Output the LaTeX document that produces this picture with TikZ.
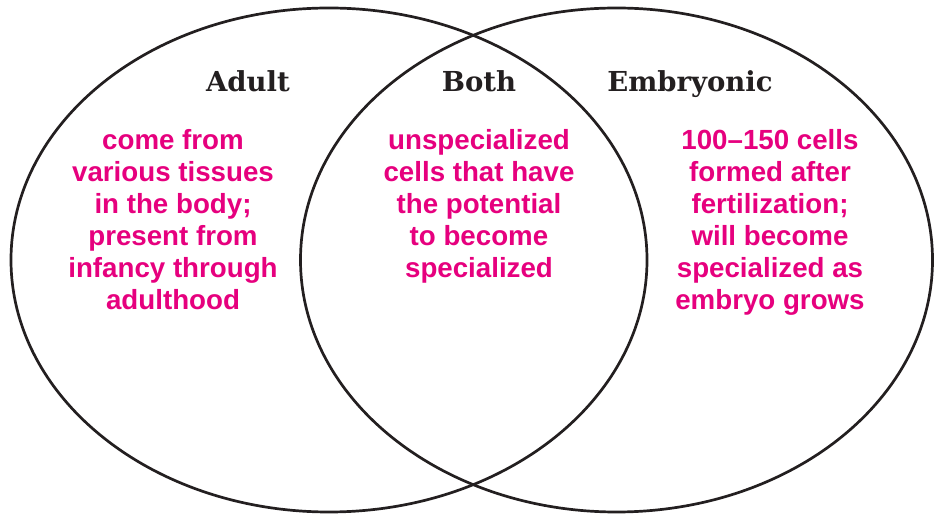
\documentclass[tikz,border=0pt]{standalone}
\usepackage{fontspec}
\usetikzlibrary{shapes.geometric}
\newfontfamily\headfont{DejaVu Serif}
\newfontfamily\notefont{Liberation Sans}
\definecolor{notepink}{RGB}{230,0,126}
\definecolor{headink}{RGB}{35,31,32}
\begin{document}
\begin{tikzpicture}[x=1pt,y=1pt,line cap=round,line join=round,
    setring/.style={draw=headink,line width=2.7pt,ellipse,inner sep=0pt,
      minimum width=636pt,minimum height=504pt},
    sethead/.style={anchor=base,inner sep=0pt,text=headink,
      font=\headfont\bfseries\fontsize{27.5}{32}\selectfont},
    setnote/.style={anchor=north,inner sep=0pt,align=center,text=notepink,
      font=\notefont\bfseries\fontsize{27.7}{32}\selectfont}]
    \useasboundingbox (0,0) rectangle (936,516);
    % the two sets
    \node[setring] (adultset) at (329,256) {};
    \node[setring,minimum width=632pt] (embryoset) at (616.5,256) {};
    % headings
    \node[sethead] (adulthead) at (248,424) {Adult};
    \node[sethead] (bothhead) at (479,424) {Both};
    \node[sethead] (embryohead) at (690,424) {Embryonic};
    % notes
    \node[setnote] (adultnote) at (173,387)
      {come from\\various tissues\\in the body;\\present from\\infancy through\\adulthood};
    \node[setnote] (bothnote) at (479,387)
      {unspecialized\\cells that have\\the potential\\to become\\specialized};
    \node[setnote] (embryonote) at (770,387)
      {100–150 cells\\formed after\\fertilization;\\will become\\specialized as\\embryo grows};
  \end{tikzpicture}
\end{document}
